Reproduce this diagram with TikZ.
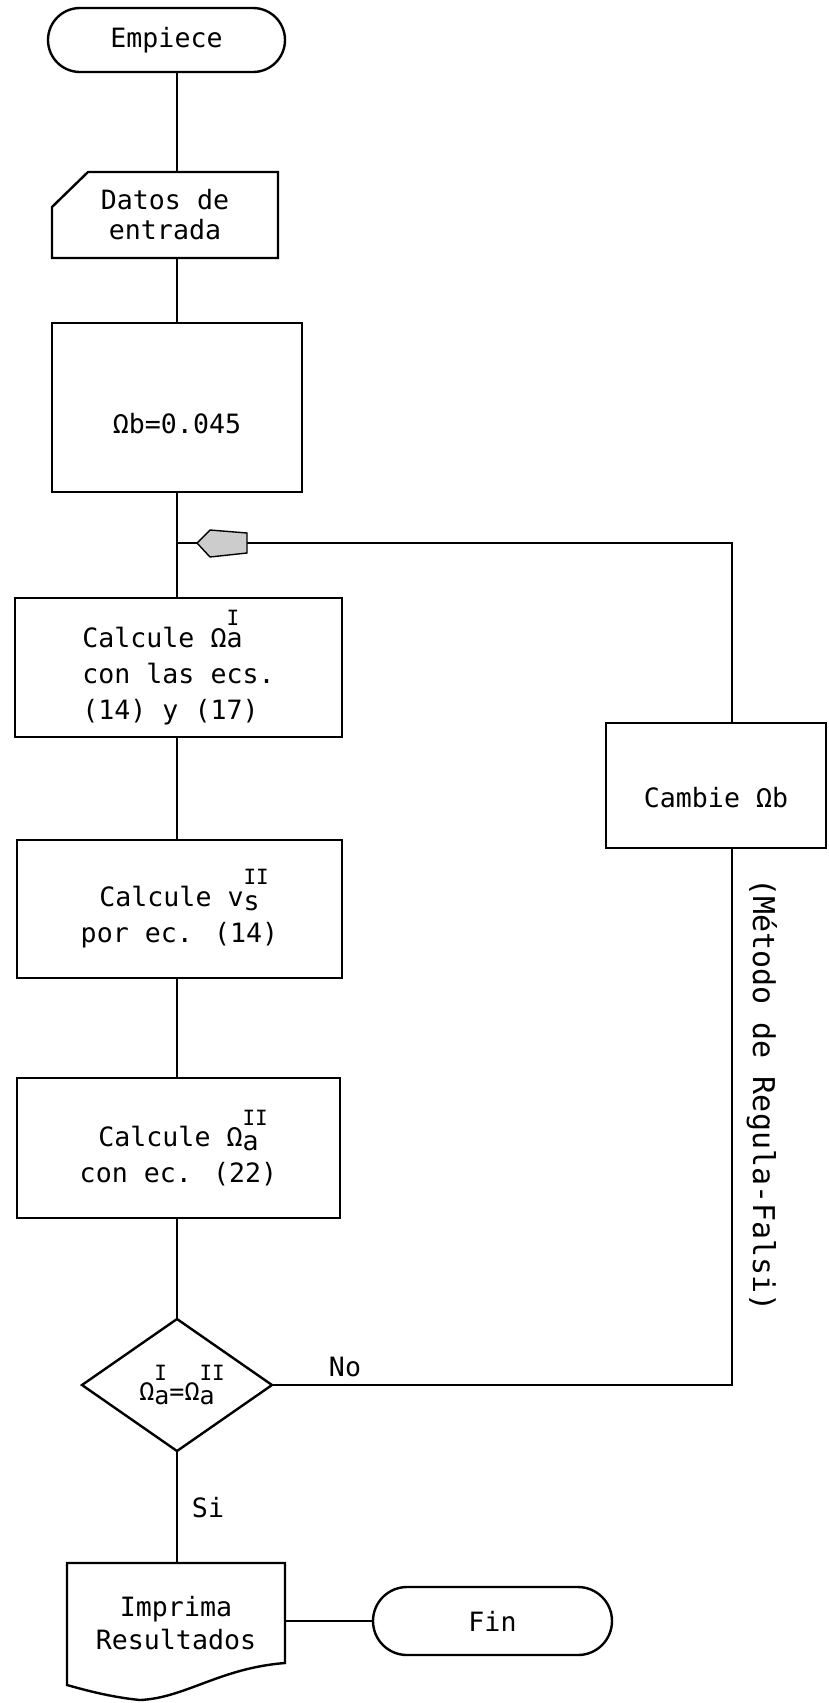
\documentclass[tikz,border=0pt]{standalone}
\usepackage{fontspec}
\setmainfont{DejaVu Sans Mono}
\usetikzlibrary{shapes.geometric,calc}
\newcommand{\supfont}{\fontsize{10.5}{10}\selectfont}
\newcommand{\SupSub}[3][0.15em]{\mbox{\rlap{\raisebox{0.82em}{\supfont #2}}\raisebox{-#1}{#3}}}
\begin{document}
\begin{tikzpicture}[x=0.5pt,y=-0.5pt,
  every node/.style={font=\fontsize{13.3}{18}\selectfont},
  line/.style={line width=1.2pt},
  procbox/.style={draw, line width=1.2pt, rectangle, inner sep=0pt, outer sep=0pt, align=center},
  term/.style={draw, line width=1.2pt, rectangle, rounded corners=16pt, inner sep=0pt, outer sep=0pt},
  ghost/.style={inner sep=0pt, outer sep=0pt, align=center},
  decis/.style={draw, diamond, line width=1.2pt, inner sep=0pt, outer sep=0pt, aspect=1.44},
  lbl/.style={inner sep=0pt},
  arrowfill/.style={fill=gray!40, draw=black, line width=0.7pt}]
\useasboundingbox (0,0) rectangle (829,1703);
\fill[white] (0,0) rectangle (829,1703);

\coordinate (col) at (177,0);
\coordinate (rx) at (732,0);

\node[term, minimum width=118.5pt, minimum height=32pt] (empiece) at (166.5,40) {Empiece};

\node[ghost, minimum width=113pt, minimum height=43pt, font=\fontsize{13.3}{15}\selectfont] (datos) at (165,215) {Datos de\\entrada};
\draw[line] ($(datos.north west)+(36,0)$) -- (datos.north east) -- (datos.south east) -- (datos.south west) -- ($(datos.north west)+(0,35)$) -- cycle;

\node[procbox, minimum width=125pt, minimum height=84.5pt, text height=26pt, text depth=0pt] (omb) at (177,407.5) {Ωb=0.045};

\node[procbox, minimum width=163.5pt, minimum height=69.5pt, align=left] (c1) at (178.5,667.5) {Calcule Ω\SupSub[0em]{I}{a}\\con las ecs.\\(14) y (17)};

\node[procbox, minimum width=162.5pt, minimum height=69pt] (c2) at (179.5,909) {Calcule v\SupSub{II}{s}\\por ec. (14)};

\node[procbox, minimum width=161.5pt, minimum height=70pt] (c3) at (178.5,1148) {Calcule Ω\SupSub{II}{a}\\con ec. (22)};

\node[decis, minimum width=95pt, minimum height=66pt, font=\fontsize{12.5}{14}\selectfont] (dec) at (177,1385) {Ω\SupSub{I}{a}=Ω\SupSub{II}{a}};

\node[procbox, minimum width=110pt, minimum height=62.5pt, text height=22pt, text depth=0pt] (cambie) at (716,785.5) {Cambie Ωb};

\node[ghost, minimum width=109pt, minimum height=60pt, font=\fontsize{13.3}{16.5}\selectfont] (imp) at (176,1623) {Imprima\\Resultados};
\draw[line] (imp.north west) -- (imp.north east) -- ($(imp.north east)+(0,100)$)
  .. controls +(-65,5) and +(45,-2) .. ($(imp.north west)+(73,137)$)
  .. controls +(-30,-3) and +(18,5) .. ($(imp.north west)+(0,122)$) -- cycle;

\node[term, rounded corners=17pt, minimum width=119.5pt, minimum height=34pt] (fin) at (492.5,1621) {Fin};

% labels
\node[lbl] (no) at (345,1367) {No};
\node[lbl] (si) at (208,1508) {Si};
\node[lbl, rotate=-90, font=\fontsize{15}{17}\selectfont] (rf) at (762,1095) {(Método de Regula-Falsi)};

% connectors
\coordinate (j) at (177,543);
\draw[line] (empiece.south -| col) -- (datos.north -| col);
\draw[line] (datos.south -| col) -- (omb.north -| col);
\draw[line] (omb.south -| col) -- (c1.north -| col);
\draw[line] (c1.south -| col) -- (c2.north -| col);
\draw[line] (c2.south -| col) -- (c3.north -| col);
\draw[line] (c3.south -| col) -- (dec.north);
\draw[line] (dec.south) -- (imp.north -| col);
\draw[line] (imp.east |- fin.west) -- (fin.west);
\draw[line] (dec.east) -| (cambie.south -| rx);
\draw[line] (cambie.north -| rx) |- (j);
\filldraw[arrowfill] ($(j)+(20,0)$) -- ($(j)+(33,-13)$) -- ($(j)+(70,-10)$) -- ($(j)+(70,10)$) -- ($(j)+(33,14)$) -- cycle;
\end{tikzpicture}
\end{document}
